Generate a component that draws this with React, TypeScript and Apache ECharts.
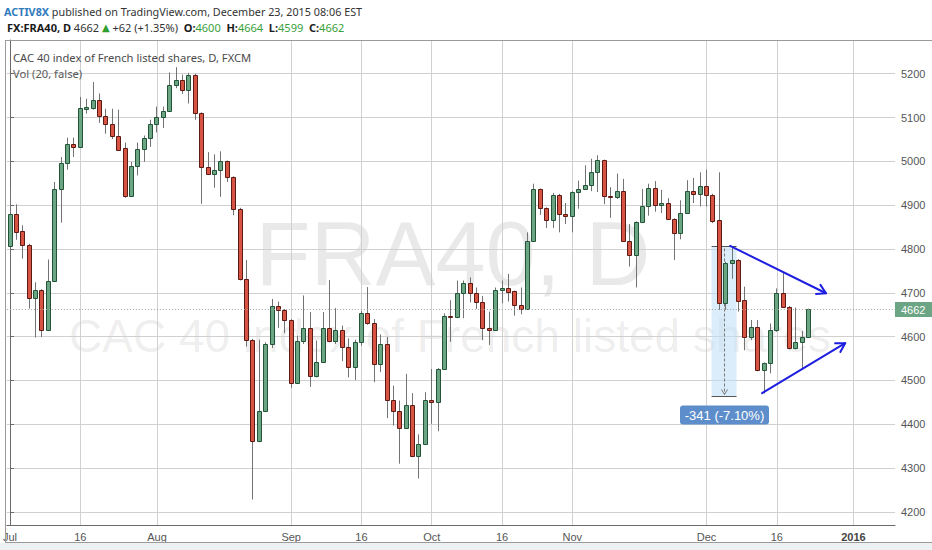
import React, { useEffect, useRef } from 'react';
import * as echarts from 'echarts';

// ---- Data ----
const opens = [
  4807, 4879, 4840, 4810, 4689, 4706, 4616, 4728, 4938, 4997,
  5040, 5033, 5120, 5122, 5139, 5104, 5086, 5059, 5030, 4922,
  4989, 5029, 5053, 5085, 5102, 5115, 5175, 5186, 5164, 5198,
  5110, 4986, 4972, 4981, 5000, 4964, 4892, 4732, 4593, 4361,
  4430, 4583, 4669, 4661, 4638, 4494, 4589, 4619, 4509, 4542,
  4620, 4591, 4615, 4576, 4530, 4587, 4654, 4631, 4538, 4583,
  4456, 4430, 4391, 4445, 4327, 4355, 4456, 4450, 4526, 4648,
  4644, 4699, 4722, 4699, 4680, 4619, 4615, 4707, 4712, 4703,
  4673, 4664, 4819, 4936, 4893, 4866, 4924, 4880, 4876, 4930,
  4937, 4945, 4976, 5002, 4922, 4918, 4932, 4818, 4786, 4861,
  4898, 4939, 4901, 4906, 4868, 4836, 4882, 4932, 4926, 4944,
  4924, 4866, 4676, 4769, 4775, 4684, 4598, 4621, 4523, 4539,
  4615, 4699, 4668, 4573, 4588, 4600,
];
const highs = [
  4941, 4902, 4854, 4812, 4724, 4708, 4776, 4953, 5010, 5054,
  5054, 5147, 5143, 5181, 5155, 5120, 5120, 5118, 5043, 4999,
  5043, 5059, 5095, 5125, 5125, 5203, 5215, 5198, 5202, 5200,
  5112, 5021, 5016, 5023, 5002, 4966, 4894, 4775, 4595, 4593,
  4587, 4686, 4680, 4663, 4640, 4602, 4694, 4656, 4591, 4656,
  4729, 4665, 4625, 4596, 4593, 4659, 4713, 4640, 4605, 4599,
  4488, 4454, 4515, 4471, 4377, 4473, 4526, 4528, 4653, 4683,
  4728, 4728, 4735, 4712, 4693, 4657, 4712, 4728, 4743, 4705,
  4712, 4838, 4949, 4938, 4895, 4928, 4926, 4905, 4932, 4956,
  4991, 5006, 5014, 5004, 4941, 4972, 4960, 4857, 4863, 4937,
  4949, 4955, 4935, 4916, 4870, 4911, 4957, 4962, 4975, 4981,
  4926, 4975, 4771, 4804, 4777, 4714, 4638, 4638, 4541, 4630,
  4710, 4746, 4670, 4666, 4613, 4664,
];
const lows = [
  4805, 4821, 4778, 4664, 4598, 4599, 4614, 4726, 4860, 4981,
  5010, 5031, 5109, 5118, 5088, 5063, 5051, 5024, 4917, 4920,
  4968, 4999, 5033, 5066, 5076, 5113, 5167, 5154, 5132, 5095,
  4903, 4970, 4940, 4919, 4953, 4877, 4728, 4577, 4228, 4359,
  4428, 4574, 4620, 4608, 4483, 4492, 4583, 4485, 4507, 4540,
  4587, 4583, 4544, 4507, 4501, 4579, 4627, 4496, 4519, 4414,
  4397, 4310, 4389, 4325, 4276, 4353, 4401, 4384, 4524, 4588,
  4642, 4642, 4678, 4663, 4592, 4581, 4613, 4676, 4680, 4648,
  4651, 4662, 4817, 4878, 4848, 4848, 4838, 4857, 4838, 4892,
  4935, 4932, 4930, 4902, 4871, 4914, 4816, 4760, 4712, 4859,
  4876, 4885, 4882, 4866, 4775, 4822, 4880, 4905, 4897, 4897,
  4859, 4661, 4661, 4732, 4657, 4569, 4592, 4521, 4470, 4516,
  4611, 4666, 4571, 4571, 4527, 4599,
];
const closes = [
  4879, 4839, 4809, 4689, 4706, 4616, 4728, 4938, 4997, 5040,
  5033, 5122, 5124, 5139, 5104, 5085, 5058, 5027, 4922, 4989,
  5029, 5053, 5085, 5102, 5115, 5175, 5186, 5164, 5198, 5110,
  4986, 4972, 4981, 5000, 4964, 4892, 4732, 4593, 4361, 4430,
  4583, 4669, 4661, 4638, 4494, 4589, 4619, 4509, 4542, 4620,
  4591, 4615, 4576, 4530, 4587, 4654, 4631, 4538, 4583, 4456,
  4430, 4391, 4445, 4327, 4355, 4456, 4450, 4526, 4648, 4644,
  4699, 4722, 4699, 4680, 4619, 4615, 4707, 4712, 4702, 4673,
  4664, 4819, 4936, 4893, 4866, 4924, 4880, 4876, 4930, 4937,
  4945, 4976, 5004, 4922, 4919, 4932, 4818, 4786, 4861, 4898,
  4939, 4901, 4906, 4868, 4836, 4882, 4932, 4926, 4944, 4924,
  4865, 4676, 4769, 4775, 4682, 4598, 4621, 4523, 4539, 4615,
  4699, 4668, 4573, 4588, 4598, 4662,
];

const dayCount = 139; // trading days shown on the time axis (Jul 1 2015 .. Jan 11 2016)
const tickIndex = [0, 11, 23, 44, 55, 66, 77, 88, 109, 120, 132];
const tickText = ['Jul', '16', 'Aug', 'Sep', '16', 'Oct', '16', 'Nov', 'Dec', '16', '2016'];
const priceTicks = [4200, 4300, 4400, 4500, 4600, 4700, 4800, 4900, 5000, 5100, 5200];
const priceMin = 4170;
const priceMax = 5277;
const lastPrice = 4662;
// measure tool: bar-from, bar-to, price-from, price-to
const measureBox = [[109.8, 113.7, 4806, 4465]];
// trend lines: bar1, price1, bar2, price2
const trendLines = [
  [112.7, 4807, 127.7, 4699],
  [117.7, 4471, 130.7, 4585],
];

const dates: string[] = [];
{
  const d = new Date(Date.UTC(2015, 6, 1));
  while (dates.length < dayCount) {
    const wd = d.getUTCDay();
    if (wd !== 0 && wd !== 6) dates.push(d.toISOString().slice(0, 10));
    d.setUTCDate(d.getUTCDate() + 1);
  }
}

const AX = 'Liberation Sans, Arial, sans-serif';
const UI = 'Noto Sans, Open Sans, sans-serif';
const GRID = '#d0d0d0';
const FRAME = '#9a9a9a';
const tickSet = new Set(tickIndex);

const candleData = opens.map((o, i) => [i, o, closes[i], lows[i], highs[i]]);

function frameLine(x1: number, y1: number, x2: number, y2: number) {
  return {
    type: 'line', silent: true, z: 10,
    shape: { x1, y1, x2, y2 },
    style: { stroke: FRAME, lineWidth: 1 },
  };
}

function buildOption(): any {
  return {
    animation: false,
    backgroundColor: '#ffffff',
    grid: { left: 5, right: 37, top: 40, bottom: 25, containLabel: false },
    xAxis: [
      {
        type: 'category',
        data: dates,
        boundaryGap: true,
        axisLine: { onZero: false, lineStyle: { color: '#6a6a6a', width: 1 } },
        axisTick: {
          alignWithLabel: true,
          interval: (i: number) => tickSet.has(i),
          length: 3,
          lineStyle: { color: '#6a6a6a' },
        },
        axisLabel: {
          interval: (i: number) => tickSet.has(i),
          formatter: (_v: string, i: number) => {
            const k = tickIndex.indexOf(i);
            if (k < 0) return '';
            const t = tickText[k];
            return t === '2016' ? '{b|' + t + '}' : t;
          },
          color: '#555',
          fontSize: 11,
          fontFamily: AX,
          margin: 6,
          rich: { b: { fontWeight: 'bold', fontSize: 11, fontFamily: AX, color: '#444' } },
        },
        splitLine: { show: false },
      },
      {
        type: 'value',
        min: -0.5,
        max: dayCount - 0.5,
        position: 'bottom',
        show: true,
        axisLine: { show: false },
        axisTick: { show: false, customValues: tickIndex },
        axisLabel: { show: false, customValues: tickIndex },
        splitLine: { show: true, showMinLine: true, showMaxLine: true, lineStyle: { color: GRID, width: 1 } },
      },
    ],
    yAxis: {
      type: 'value',
      position: 'right',
      min: priceMin,
      max: priceMax,
      splitNumber: 11,
      axisLine: { show: true, lineStyle: { color: '#6a6a6a', width: 1 } },
      axisTick: { show: true, length: 4, customValues: priceTicks, lineStyle: { color: '#6a6a6a' } },
      axisLabel: {
        customValues: priceTicks,
        formatter: (v: number) => String(v),
        color: '#555',
        fontSize: 11,
        fontFamily: AX,
        margin: 6,
      },
      splitLine: { show: true, showMinLine: true, showMaxLine: true, lineStyle: { color: GRID, width: 1 } },
    },
    graphic: [
      {
        type: 'text', x: 453, y: 254, z: 0, silent: true,
        style: {
          text: 'FRA40, D', fontSize: 90, fontFamily: AX, fill: 'rgba(0,0,0,0.085)',
          align: 'center', verticalAlign: 'middle',
        },
      },
      {
        type: 'text', x: 450, y: 336, z: 0, silent: true,
        style: {
          text: 'CAC 40 index of French listed shares', fontSize: 46, fontFamily: AX,
          fill: 'rgba(0,0,0,0.085)', align: 'center', verticalAlign: 'middle',
        },
      },
      {
        type: 'rect', z: 0, silent: true,
        shape: { x: 0, y: 543, width: 932, height: 7 },
        style: { fill: '#eef1f4' },
      },
      frameLine(5, 40.5, 932, 40.5),
      frameLine(5.5, 40, 5.5, 543),
      frameLine(5, 542.5, 932, 542.5),
      {
        type: 'text', x: 4, y: 11, z: 10,
        style: {
          text: '{a|ACTIV8X} {b|published on TradingView.com, December 23, 2015 08:06 EST}',
          fontSize: 10.8, fontFamily: UI, verticalAlign: 'middle',
          rich: {
            a: { fontSize: 10.8, fontFamily: UI, fontWeight: 'bold', fill: '#2f7bbd', color: '#2f7bbd' },
            b: { fontSize: 10.8, fontFamily: UI, fill: '#333', color: '#333' },
          },
        },
      },
      {
        type: 'text', x: 7, y: 27, z: 10,
        style: {
          text:
            '{k|FX:FRA40, D} {n|4662} {t|▲} {n|+62 (+1.35%)}  {k|O:}{g|4600}  {k|H:}{g|4664}  {k|L:}{g|4599}  {k|C:}{g|4662}',
          fontSize: 11, fontFamily: UI, verticalAlign: 'middle',
          rich: {
            k: { fontSize: 11, fontFamily: UI, fontWeight: 'bold', fill: '#1a1a1a', color: '#1a1a1a' },
            n: { fontSize: 11, fontFamily: UI, fill: '#333', color: '#333' },
            g: { fontSize: 11, fontFamily: UI, fill: '#3a9f3a', color: '#3a9f3a' },
            t: { fontSize: 10, fontFamily: 'DejaVu Sans', fill: '#2e9e2e', color: '#2e9e2e' },
          },
        },
      },
      {
        type: 'text', x: 13, y: 57, z: 10,
        style: {
          text: 'CAC 40 index of French listed shares, D, FXCM', fontSize: 11.2, fontFamily: UI,
          fill: '#4a4a4a', verticalAlign: 'middle',
        },
      },
      {
        type: 'text', x: 13, y: 73, z: 10,
        style: {
          text: 'Vol (20, false)', fontSize: 11.2, fontFamily: UI,
          fill: '#5a5a5a', verticalAlign: 'middle',
        },
      },
    ],
    series: [
      {
        name: 'measure',
        type: 'custom',
        xAxisIndex: 1,
        yAxisIndex: 0,
        z: 2,
        silent: true,
        clip: false,
        data: measureBox,
        encode: { x: [0, 1], y: [2, 3] },
        renderItem: (params: any, api: any) => {
          const x1v = api.value(0), x2v = api.value(1), topV = api.value(2), botV = api.value(3);
          const a = api.coord([x1v, topV]);
          const b = api.coord([x2v, botV]);
          const cx = Math.round((a[0] + b[0]) / 2) + 0.5;
          const yt = Math.round(a[1]) + 0.5;
          const yb = Math.round(b[1]) + 0.5;
          const diff = botV - topV;
          const pct = (diff / topV) * 100;
          const label = String(diff) + ' (' + pct.toFixed(2) + '%)';
          return {
            type: 'group',
            children: [
              { type: 'rect', shape: { x: a[0], y: yt, width: b[0] - a[0], height: yb - yt }, style: { fill: 'rgba(190,220,245,0.55)' } },
              { type: 'line', shape: { x1: a[0], y1: yt, x2: b[0], y2: yt }, style: { stroke: '#555', lineWidth: 1 } },
              { type: 'line', shape: { x1: a[0], y1: yb, x2: b[0], y2: yb }, style: { stroke: '#555', lineWidth: 1 } },
              { type: 'line', shape: { x1: cx, y1: yt + 2, x2: cx, y2: yb - 2 }, style: { stroke: '#777', lineWidth: 1, lineDash: [3, 2] } },
              { type: 'polyline', shape: { points: [[cx - 3, yb - 7], [cx, yb - 2], [cx + 3, yb - 7]] }, style: { stroke: '#777', lineWidth: 1, fill: 'none' } },
              { type: 'rect', shape: { x: cx - 44.5, y: yb + 9, width: 89, height: 19, r: 3 }, style: { fill: '#5d8ecb' } },
              {
                type: 'text',
                style: {
                  text: label, x: cx, y: yb + 18.5, fill: '#ffffff', fontSize: 13, fontFamily: AX,
                  align: 'center', verticalAlign: 'middle',
                },
              },
            ],
          };
        },
      },
      {
        name: 'FRA40',
        type: 'custom',
        xAxisIndex: 0,
        yAxisIndex: 0,
        z: 3,
        clip: true,
        data: candleData,
        encode: { x: 0, y: [1, 2, 3, 4] },
        renderItem: (_params: any, api: any) => {
          const i = api.value(0);
          const o = api.value(1), c = api.value(2), l = api.value(3), h = api.value(4);
          const pO = api.coord([i, o]);
          const pC = api.coord([i, c]);
          const pL = api.coord([i, l]);
          const pH = api.coord([i, h]);
          const n = Math.floor(pO[0]);
          const x = n + 0.5;
          const up = c >= o;
          const top = Math.round(Math.min(pO[1], pC[1])) + 0.5;
          let bot = Math.round(Math.max(pO[1], pC[1])) + 0.5;
          if (bot - top < 1) bot = top + 1;
          return {
            type: 'group',
            children: [
              { type: 'line', shape: { x1: x, y1: pH[1], x2: x, y2: pL[1] }, style: { stroke: '#737375', lineWidth: 1 } },
              {
                type: 'rect',
                shape: { x: n - 1.5, y: top, width: 4, height: bot - top },
                style: { fill: up ? '#6ba583' : '#d75442', stroke: up ? '#225437' : '#5b1a13', lineWidth: 1 },
              },
            ],
          };
        },
      },
      {
        name: 'last',
        type: 'custom',
        xAxisIndex: 1,
        yAxisIndex: 0,
        z: 4,
        silent: true,
        clip: false,
        data: [[0, lastPrice]],
        encode: { x: 0, y: 1 },
        renderItem: (params: any, api: any) => {
          const cs = params.coordSys;
          const p = api.coord([0, api.value(1)]);
          const y = Math.round(p[1]) + 0.5;
          const xr = cs.x + cs.width;
          return {
            type: 'group',
            children: [
              { type: 'line', shape: { x1: cs.x, y1: y, x2: xr, y2: y }, style: { stroke: '#a0a0a0', lineWidth: 1, lineDash: [1, 2] } },
              { type: 'rect', shape: { x: xr, y: y - 7.5, width: 40, height: 15 }, style: { fill: '#6ba583' } },
              {
                type: 'text',
                style: {
                  text: String(api.value(1)), x: xr + 6, y: y, fill: '#ffffff', fontSize: 11, fontFamily: AX,
                  verticalAlign: 'middle',
                },
              },
            ],
          };
        },
      },
      {
        name: 'trend',
        type: 'custom',
        xAxisIndex: 1,
        yAxisIndex: 0,
        z: 5,
        silent: true,
        clip: false,
        data: trendLines,
        encode: { x: [0, 2], y: [1, 3] },
        renderItem: (_params: any, api: any) => {
          const p1 = api.coord([api.value(0), api.value(1)]);
          const p2 = api.coord([api.value(2), api.value(3)]);
          const ang = Math.atan2(p2[1] - p1[1], p2[0] - p1[0]);
          const L = 10, A = Math.PI / 6;
          const h1 = [p2[0] - L * Math.cos(ang - A), p2[1] - L * Math.sin(ang - A)];
          const h2 = [p2[0] - L * Math.cos(ang + A), p2[1] - L * Math.sin(ang + A)];
          const st = { stroke: '#1e1ee0', lineWidth: 2, fill: 'none', lineCap: 'round', lineJoin: 'round' };
          return {
            type: 'group',
            children: [
              { type: 'line', shape: { x1: p1[0], y1: p1[1], x2: p2[0], y2: p2[1] }, style: st },
              { type: 'polyline', shape: { points: [h1, p2, h2] }, style: st },
            ],
          };
        },
      },
    ],
  };
}

export default function App() {
  const ref = useRef<HTMLDivElement>(null);
  useEffect(() => {
    if (!ref.current) return;
    const chart = echarts.init(ref.current, null, { renderer: 'svg' });
    chart.setOption(buildOption());
    return () => chart.dispose();
  }, []);
  return (
    <div
      ref={ref}
      style={{ position: 'fixed', left: 0, top: 0, width: 932, height: 550, background: '#fff' }}
    />
  );
}
